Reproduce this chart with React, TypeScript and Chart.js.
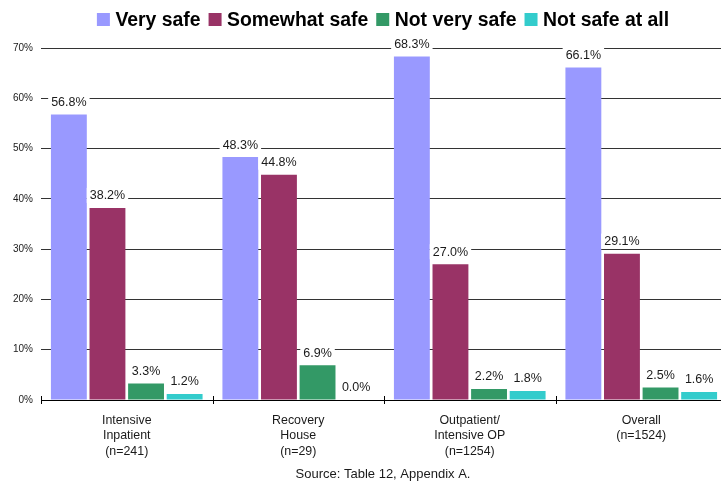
import React, { useEffect, useRef } from "react";
import { Chart, registerables } from "chart.js";

Chart.register(...registerables);

// Program groups (multi-line axis labels)
const categories: string[][] = [
  ["Intensive", "Inpatient", "(n=241)"],
  ["Recovery", "House", "(n=29)"],
  ["Outpatient/", "Intensive OP", "(n=1254)"],
  ["Overall", "(n=1524)"],
];

const seriesNames = ["Very safe", "Somewhat safe", "Not very safe", "Not safe at all"];

// Percent of respondents per rating
const verySafe = [56.8, 48.3, 68.3, 66.1];
const somewhatSafe = [38.2, 44.8, 27.0, 29.1];
const notVerySafe = [3.3, 6.9, 2.2, 2.5];
const notSafeAtAll = [1.2, 0.0, 1.8, 1.6];

const yTicks = [0, 10, 20, 30, 40, 50, 60, 70];

const seriesColors = ["#9999FF", "#993366", "#339966", "#33CCCC"];

const sourceNote = "Source: Table 12, Appendix A.";

const FONT = "'Liberation Sans', Arial, Helvetica, sans-serif";

// Value labels with a white backing box above each bar
const valueLabels = {
  id: "valueLabels",
  afterDatasetsDraw(chart: any) {
    const ctx = chart.ctx;
    ctx.save();
    ctx.font = `12.5px ${FONT}`;
    ctx.textAlign = "center";
    ctx.textBaseline = "middle";
    chart.data.datasets.forEach((ds: any, di: number) => {
      const meta = chart.getDatasetMeta(di);
      meta.data.forEach((bar: any, i: number) => {
        const v = ds.data[i] as number;
        const text = v.toFixed(1) + "%";
        const x = bar.x;
        const y = bar.y - 12;
        const w = ctx.measureText(text).width;
        ctx.fillStyle = "#ffffff";
        ctx.fillRect(x - w / 2 - 3, y - 8, w + 6, 15);
        ctx.fillStyle = "#1a1a1a";
        ctx.fillText(text, x, y);
      });
    });
    ctx.restore();
  },
};

// Legend row across the top, category divider ticks crossing the axis,
// and the source note along the bottom
const headerFooter = {
  id: "headerFooter",
  afterDraw(chart: any) {
    const ctx = chart.ctx;
    const cx = chart.width / 2;
    ctx.save();

    const area = chart.chartArea;
    const n = chart.data.labels.length;
    ctx.strokeStyle = "#000";
    ctx.lineWidth = 1;
    for (let i = 0; i <= n; i++) {
      const x = Math.round(area.left + (i * (area.right - area.left)) / n) + 0.5;
      ctx.beginPath();
      ctx.moveTo(x, area.bottom - 4);
      ctx.lineTo(x, area.bottom + 4);
      ctx.stroke();
    }

    ctx.font = `bold 19.4px ${FONT}`;
    ctx.textBaseline = "alphabetic";
    ctx.textAlign = "left";
    const box = 13;
    const textGap = 18.5;
    const itemGap = 8;
    const items = chart.data.datasets.map((ds: any) => ({
      label: ds.label as string,
      color: ds.backgroundColor as string,
      w: ctx.measureText(ds.label).width,
    }));
    const total =
      items.reduce((s: number, it: any) => s + textGap + it.w, 0) + itemGap * (items.length - 1);
    let x = cx - total / 2;
    items.forEach((it: any) => {
      ctx.fillStyle = it.color;
      ctx.fillRect(x, 13, box, box);
      ctx.fillStyle = "#000";
      ctx.fillText(it.label, x + textGap, 26);
      x += textGap + it.w + itemGap;
    });

    ctx.font = `13px ${FONT}`;
    ctx.textAlign = "center";
    ctx.fillStyle = "#1a1a1a";
    ctx.fillText(sourceNote, cx, 478);
    ctx.restore();
  },
};

export default function App() {
  const canvasRef = useRef<HTMLCanvasElement | null>(null);

  useEffect(() => {
    if (!canvasRef.current) return;
    const seriesData = [verySafe, somewhatSafe, notVerySafe, notSafeAtAll];
    const chart = new Chart(canvasRef.current, {
      type: "bar",
      data: {
        labels: categories,
        datasets: seriesNames.map((name, k) => ({
          label: name,
          data: seriesData[k],
          backgroundColor: seriesColors[k],
          borderWidth: 0,
          categoryPercentage: 0.9,
          barPercentage: 0.93,
        })),
      },
      options: {
        responsive: false,
        animation: false,
        devicePixelRatio: 1,
        layout: { padding: { left: 0, right: 39, top: 48, bottom: 21 } },
        plugins: {
          tooltip: { enabled: false },
          legend: { display: false },
          title: { display: false },
        },
        scales: {
          x: {
            grid: {
              display: false,
              drawOnChartArea: false,
              drawTicks: false,
              offset: true,
            },
            border: { display: true, color: "#000", width: 1 },
            ticks: {
              color: "#1a1a1a",
              padding: 13,
              maxRotation: 0,
              autoSkip: false,
              font: { family: FONT, size: 12.4, lineHeight: 1.24 },
            },
            afterFit: (s: any) => {
              s.height = 60;
            },
          },
          y: {
            min: 0,
            max: 70,
            afterBuildTicks: (s: any) => {
              s.ticks = yTicks.map((v) => ({ value: v }));
            },
            grid: { color: "#333", lineWidth: 1, drawTicks: false },
            border: { display: false },
            ticks: {
              color: "#1a1a1a",
              padding: 8,
              font: { family: FONT, size: 10 },
              callback: (v: any) => `${v}%`,
            },
            afterFit: (s: any) => {
              s.width = 41;
            },
          },
        },
      },
      plugins: [valueLabels, headerFooter],
    });
    return () => chart.destroy();
  }, []);

  return (
    <div
      style={{
        position: "fixed",
        left: 0,
        top: 0,
        width: 721,
        height: 481,
        overflow: "hidden",
        background: "#fff",
      }}
    >
      <canvas ref={canvasRef} width={766} height={481} style={{ display: "block" }} />
    </div>
  );
}
